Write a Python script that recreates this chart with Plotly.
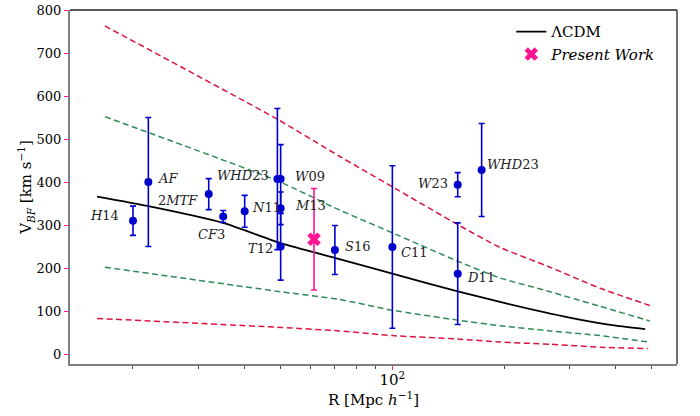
import math
import plotly.graph_objects as go

# ---- data ----
r_lcdm = [16, 22, 35, 50, 72, 100, 150, 200, 300, 400, 480]
v_lcdm = [367, 345, 306, 259, 222, 188, 147, 120, 86, 67, 59]

r_red_up = [16.8, 49, 72, 100, 150, 195, 266, 363, 494]
v_red_up = [764, 547, 461, 390, 302, 249, 203, 154, 114]

r_green_up = [16.8, 49, 72, 100, 150, 195, 266, 363, 494]
v_green_up = [553, 404, 336, 283, 217, 178, 146, 112, 78]

r_green_lo = [16.8, 50, 72, 100, 150, 195, 266, 363, 494]
v_green_lo = [203, 146, 128, 103, 80, 67, 55, 44, 29]

r_red_lo = [16, 50, 72, 100, 150, 195, 266, 363, 489]
v_red_lo = [84, 63, 55, 44, 36, 29, 24, 17, 14]

names = ["<i>H</i>14", "<i>AF</i>", "2<i>MTF</i>", "<i>CF</i>3", "<i>N</i>11",
         "<i>WHD</i>23", "<i>W</i>09", "<i>M</i>13", "<i>T</i>12", "<i>S</i>16",
         "<i>C</i>11", "<i>D</i>11", "<i>W</i>23", "<i>WHD</i>23"]
r_obs = [20, 22, 32, 35, 40, 49, 50, 50, 50, 70, 100, 150, 150, 174]
v_obs = [311, 401, 373, 321, 333, 408, 408, 340, 251, 243, 250, 188, 395, 429]
e_obs = [34, 150, 36, 14, 37, 164, 80, 38, 78, 57, 189, 118, 28, 108]

r_pw = [61.5]
v_pw = [268]
e_pw = [118]

# label placement (style): xanchor, xshift, yshift
label_style = [
    ("right", -12, 5), ("left", 8, 4), ("right", -9, -6), ("center", -12, -18),
    ("left", 5, 4), ("right", -6, 4), ("left", 12, 3), ("left", 12, 3),
    ("right", -6, -2), ("left", 8, 4), ("left", 7, -5), ("left", 7, -4),
    ("right", -8, 1), ("left", 3, 6),
]

RED = "#DC143C"
GREEN = "#2E8B57"
BLUE = "#0000CD"
PINK = "#FF1493"
FONT = "DejaVu Serif"

fig = go.Figure()

for rx, vy, col in [(r_red_up, v_red_up, RED), (r_green_up, v_green_up, GREEN),
                    (r_green_lo, v_green_lo, GREEN), (r_red_lo, v_red_lo, RED)]:
    fig.add_trace(go.Scatter(x=rx, y=vy, mode="lines", showlegend=False,
                             line=dict(color=col, width=1.5, dash="6px,3.5px",
                                       shape="spline", smoothing=0.5)))

fig.add_trace(go.Scatter(x=r_lcdm, y=v_lcdm, mode="lines", name="ΛCDM",
                         line=dict(color="black", width=1.8, shape="spline", smoothing=0.5)))

fig.add_trace(go.Scatter(x=r_obs, y=v_obs, mode="markers", showlegend=False,
                         marker=dict(color=BLUE, size=8),
                         error_y=dict(type="data", array=e_obs, color=BLUE,
                                      thickness=1.6, width=3)))

fig.add_trace(go.Scatter(x=r_pw, y=v_pw, mode="markers", name="<i>Present Work</i>",
                         marker=dict(color=PINK, size=12, symbol="x"),
                         error_y=dict(type="data", array=e_pw, color=PINK,
                                      thickness=1.6, width=3)))

for n, rx, vy, (xa, xs, ys) in zip(names, r_obs, v_obs, label_style):
    fig.add_annotation(x=math.log10(rx), y=vy, xref="x", yref="y", text=n, showarrow=False,
                       xanchor=xa, yanchor="middle", xshift=xs, yshift=ys,
                       font=dict(family=FONT, size=13, color="#222"))

# top and right black spines
fig.add_shape(type="line", xref="paper", yref="paper", x0=0, x1=1, y0=1, y1=1,
              line=dict(color="#222", width=1.3))
fig.add_shape(type="line", xref="paper", yref="paper", x0=1, x1=1, y0=0, y1=1,
              line=dict(color="#222", width=1.3))

fig.update_layout(
    width=700, height=416,
    margin=dict(l=70, r=23, t=3, b=52),
    paper_bgcolor="white", plot_bgcolor="white",
    font=dict(family=FONT, size=15, color="black"),
    showlegend=True,
    legend=dict(x=0.727, y=0.985, xanchor="left", yanchor="top",
                bgcolor="rgba(255,255,255,0)", borderwidth=0,
                font=dict(family=FONT, size=15)),
    xaxis=dict(type="log", range=[1.1313, 2.767], showgrid=False, zeroline=False,
               showline=True, linecolor="#808080", linewidth=2,
               tickvals=[100], ticktext=["10<sup>2</sup>"],
               ticks="outside", ticklen=4, tickcolor=PINK, tickwidth=1,
               ticklabelstandoff=-3,
               tickfont=dict(family=FONT, size=15),
               minor=dict(tickmode="array",
                          tickvals=[20, 30, 40, 50, 60, 70, 80, 90, 200, 300, 400, 500],
                          ticks="outside", ticklen=3, tickcolor="#444", tickwidth=1,
                          showgrid=False),
               title=dict(text="R [Mpc <i>h</i><sup>−1</sup>]", standoff=3,
                          font=dict(family=FONT, size=15))),
    yaxis=dict(range=[-22, 801], showgrid=False, zeroline=False,
               showline=True, linecolor="#808080", linewidth=2,
               tickvals=[0, 100, 200, 300, 400, 500, 600, 700, 800],
               ticks="outside", ticklen=4, tickcolor=PINK, tickwidth=1,
               ticklabeloverflow="allow",
               tickfont=dict(family=FONT, size=13),
               title=dict(text="V<sub><i>BF</i></sub> [km s<sup>−1</sup>]", standoff=0,
                          font=dict(family=FONT, size=15))),
)

fig.write_html("out.html")
